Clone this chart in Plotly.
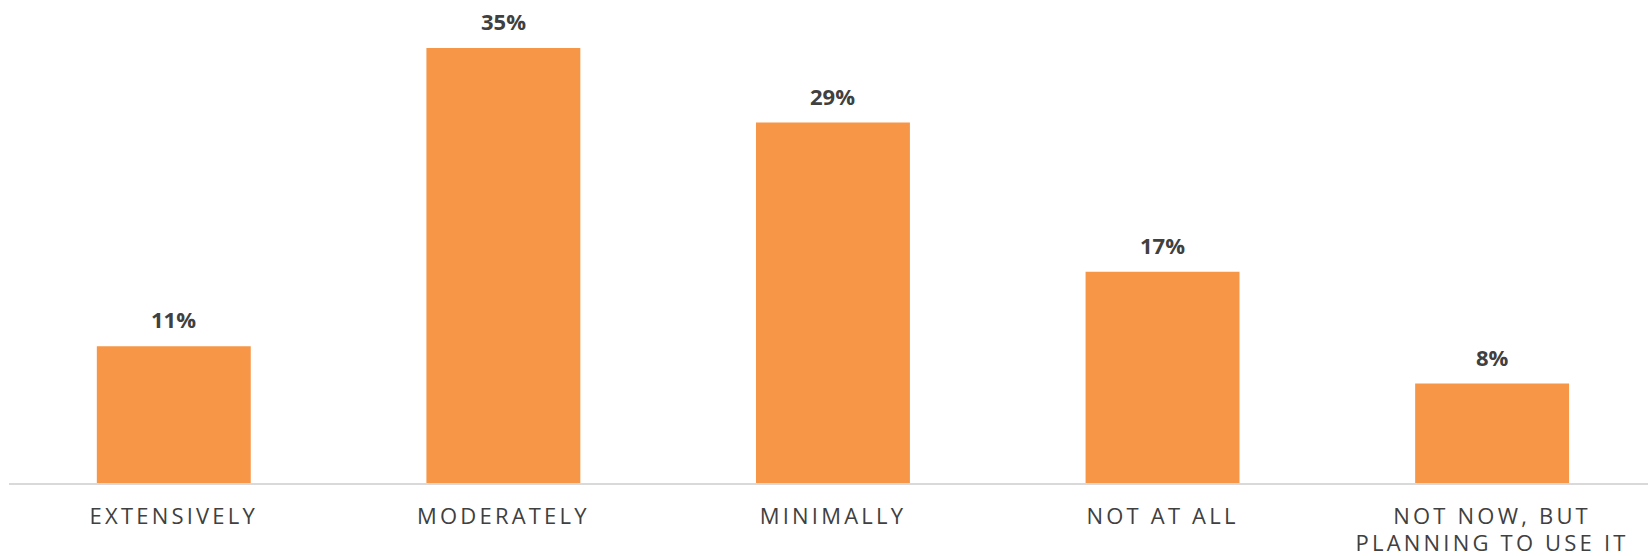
import plotly.graph_objects as go

categories = ["EXTENSIVELY", "MODERATELY", "MINIMALLY", "NOT AT ALL", "NOT NOW, BUT<br>PLANNING TO USE IT"]
values = [11, 35, 29, 17, 8]
labels = ["11%", "35%", "29%", "17%", "8%"]

BAR = "#F79646"
TXT = "#404040"

fig = go.Figure()
fig.add_trace(go.Bar(x=list(range(len(categories))), y=values, marker=dict(color=BAR, line=dict(width=0)),
                     hoverinfo="skip"))

for i, (v, t) in enumerate(zip(values, labels)):
    fig.add_annotation(x=i, y=v, text=t, showarrow=False, yanchor="bottom", yshift=10,
                       font=dict(family="Open Sans", size=22, color=TXT, weight="bold"))

fig.update_layout(
    width=1648, height=556,
    margin=dict(l=9, r=0, t=0, b=73, autoexpand=False),
    paper_bgcolor="white", plot_bgcolor="white",
    bargap=0.533, showlegend=False,
    xaxis=dict(range=[-0.5, 4.473], tickmode="array", tickvals=list(range(len(categories))),
               ticktext=categories, showgrid=False, zeroline=False, showline=True,
               linecolor="#D9D9D9", linewidth=2, ticks="", ticklabelstandoff=13,
               automargin=False,
               tickfont=dict(family="Open Sans", size=22, color=TXT)),
    yaxis=dict(range=[0, 38.86], visible=False, showgrid=False, zeroline=False, automargin=False),
)

post = """
var gd=document.getElementById('{plot_id}');
function ls(){
  gd.querySelectorAll('.xtick text').forEach(function(t){t.setAttribute('letter-spacing','3.2px');});
  gd.querySelectorAll('.xtick text tspan.line').forEach(function(t){
    var d=t.getAttribute('dy'); if(d && parseFloat(d)>0){t.setAttribute('dy','27px');}
  });
}
ls(); gd.on('plotly_afterplot', ls);
"""
fig.write_html("out.html", post_script=post)
